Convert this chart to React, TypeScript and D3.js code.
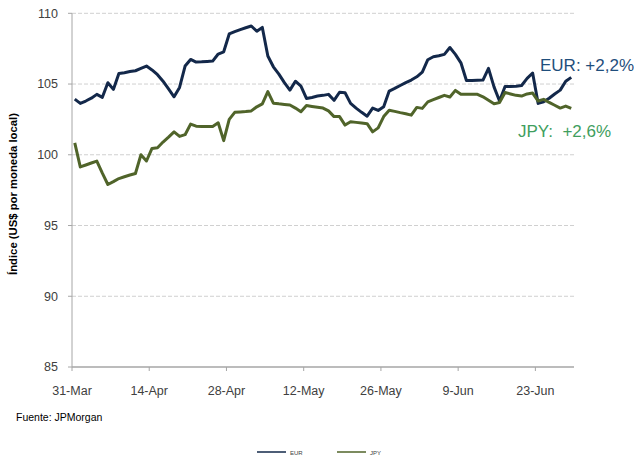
import React from "react";
import * as d3 from "d3";

// datos diarios desde el 31-mar-2014 (uno por día, incluidos fines de semana)
const startDate = "2014-03-31";
const endDate = "2014-06-30";

const eurValues = [
  103.93, 103.63, 103.8, 104.0, 104.27, 104.06, 105.09, 104.62, 105.75, 105.8,
  105.88, 105.94, 106.1, 106.27, 106.0, 105.66, 105.2, 104.65, 104.1, 104.76,
  106.27, 106.74, 106.55, 106.57, 106.6, 106.62, 107.12, 107.28, 108.54, 108.7,
  108.85, 108.98, 109.1, 108.73, 109.0, 106.98, 106.22, 105.7, 105.1, 104.57,
  105.2, 104.86, 103.98, 104.05, 104.15, 104.2, 104.27, 103.85, 104.42, 104.38,
  103.63, 103.3, 103.0, 102.73, 103.3, 103.13, 103.4, 104.5, 104.69, 104.9,
  105.1, 105.28, 105.51, 105.85, 106.72, 106.93, 107.0, 107.1, 107.58, 107.1,
  106.5, 105.25, 105.25, 105.27, 105.28, 106.11, 104.8, 103.8, 104.82, 104.83,
  104.84, 104.9, 105.4, 105.78, 103.63, 103.74, 104.0, 104.3, 104.57, 105.2,
  105.47,
];

const jpyValues = [
  100.84, 99.14, 99.28, 99.42, 99.55, 98.7, 97.9, 98.1, 98.32, 98.45,
  98.57, 98.68, 100.0, 99.56, 100.45, 100.5, 100.9, 101.25, 101.62, 101.3,
  101.42, 102.17, 102.02, 102.0, 102.0, 102.0, 102.26, 101.0, 102.5, 103.0,
  103.03, 103.06, 103.1, 103.39, 103.6, 104.47, 103.65, 103.6, 103.56, 103.52,
  103.3, 103.04, 103.48, 103.42, 103.36, 103.3, 103.1, 102.7, 102.7, 102.1,
  102.33, 102.29, 102.25, 102.2, 101.62, 101.9, 102.7, 103.15, 103.07, 102.98,
  102.9, 102.8, 103.35, 103.28, 103.74, 103.9, 104.05, 104.2, 104.08, 104.55,
  104.28, 104.28, 104.27, 104.27, 104.1, 103.85, 103.6, 103.7, 104.4, 104.3,
  104.2, 104.15, 104.3, 104.36, 103.8, 103.92, 103.7, 103.5, 103.3, 103.44,
  103.28,
];

const tickDates = ["2014-03-31", "2014-04-14", "2014-04-28", "2014-05-12", "2014-05-26", "2014-06-09", "2014-06-23"];
const tickLabels = ["31-Mar", "14-Apr", "28-Apr", "12-May", "26-May", "9-Jun", "23-Jun"];
const yTicks = [85, 90, 95, 100, 105, 110];

const series = [
  { name: "EUR", values: eurValues, color: "#13284a", note: "EUR: +2,2%", noteColor: "#1f4e7c" },
  { name: "JPY", values: jpyValues, color: "#50642a", noteColor: "#3f9e5e", note: "JPY:  +2,6%" },
];

const W = 634;
const H = 457;
const margin = { top: 13.3, right: 60, bottom: 90, left: 72 };
const font = "'Liberation Sans', Arial, sans-serif";

const parse = d3.utcParse("%Y-%m-%d");

export default function App() {
  const t0 = parse(startDate)!;
  const t1 = parse(endDate)!;
  const x = d3.scaleUtc().domain([t0, t1]).range([margin.left, W - margin.right]);
  const y = d3.scaleLinear().domain([85, 110]).range([H - margin.bottom, margin.top]);

  // cada punto va centrado en su día
  const dayX = (i: number) => x(d3.utcHour.offset(d3.utcDay.offset(t0, i), 12));

  const line = d3
    .line<number>()
    .x((_, i) => dayX(i))
    .y((v) => y(v));

  const x0 = margin.left;
  const x1 = W - margin.right;
  const yBottom = y(85);

  return (
    <svg width={W} height={H} style={{ position: "absolute", left: 0, top: 0, background: "#fff" }}>
      {/* grilla */}
      {yTicks.filter((v) => v > 85).map((v) => (
        <line key={v} x1={x0} x2={x1} y1={y(v)} y2={y(v)} stroke="#d0d0d0" strokeDasharray="4 2" strokeWidth={1} />
      ))}

      {/* eje y */}
      <line x1={x0} x2={x0} y1={margin.top} y2={yBottom} stroke="#a6a6a6" strokeWidth={1} />
      {yTicks.map((v) => (
        <g key={v}>
          <line x1={x0 - 4} x2={x0} y1={y(v)} y2={y(v)} stroke="#a6a6a6" />
          <text x={58} y={y(v)} dy="0.35em" textAnchor="end" fontFamily={font} fontSize={12.5} fill="#404040">
            {v}
          </text>
        </g>
      ))}

      {/* eje x */}
      <line x1={x0} x2={x1} y1={yBottom} y2={yBottom} stroke="#a6a6a6" strokeWidth={1.5} />
      {tickDates.map((d, i) => {
        const tx = x(parse(d)!);
        return (
          <g key={d}>
            <line x1={tx} x2={tx} y1={yBottom} y2={yBottom + 4} stroke="#a6a6a6" />
            <text x={tx} y={395} textAnchor="middle" fontFamily={font} fontSize={12.5} fill="#404040">
              {tickLabels[i]}
            </text>
          </g>
        );
      })}

      {/* líneas */}
      {series.map((s) => (
        <path key={s.name} d={line(s.values) || ""} fill="none" stroke={s.color} strokeWidth={3} strokeLinejoin="round" />
      ))}

      {/* anotaciones */}
      <text x={540} y={71} fontFamily={font} fontSize={17} fill={series[0].noteColor}>
        {series[0].note}
      </text>
      <text x={518} y={137} fontFamily={font} fontSize={17} fill={series[1].noteColor} style={{ whiteSpace: "pre" }}>
        {series[1].note}
      </text>

      {/* título eje y */}
      <text
        transform="translate(17,194) rotate(-90)"
        textAnchor="middle"
        fontFamily={font}
        fontSize={11.3}
        fontWeight="bold"
        fill="#000"
      >
        Índice (US$ por moneda local)
      </text>

      <text x={16} y={421} fontFamily={font} fontSize={10.5} fill="#000">
        Fuente: JPMorgan
      </text>

      {/* leyenda */}
      {series.map((s, i) => {
        const lx = 257 + i * 80;
        return (
          <g key={s.name}>
            <line x1={lx} x2={lx + 29} y1={452} y2={452} stroke={s.color} strokeWidth={1.5} />
            <text x={lx + 33} y={455} fontFamily={font} fontSize={6} fill="#404040">
              {s.name}
            </text>
          </g>
        );
      })}
    </svg>
  );
}
